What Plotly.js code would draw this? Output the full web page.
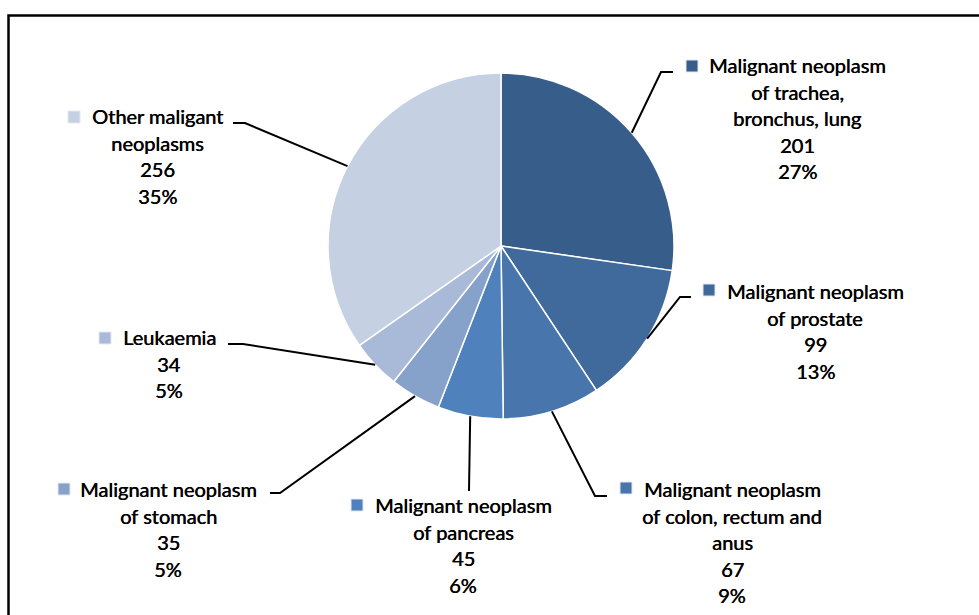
<!DOCTYPE html>
<html>
<head>
<meta charset="utf-8">
<script src="https://cdn.plot.ly/plotly-3.0.1.min.js"></script>
<style>html,body{margin:0;padding:0;background:#fff;}#chart{width:979px;height:615px;}</style>
</head>
<body>
<div id="chart"></div>
<script>
// ---- data ----
const categories = [
  "Malignant neoplasm|of trachea,|bronchus, lung",
  "Malignant neoplasm|of prostate",
  "Malignant neoplasm|of colon, rectum and|anus",
  "Malignant neoplasm|of pancreas",
  "Malignant neoplasm|of stomach",
  "Leukaemia",
  "Other maligant|neoplasms"
];
const deaths = [201, 99, 67, 45, 35, 34, 256];

// ---- styles ----
const colors = ["#375D8A", "#3F6A9B", "#4975AD", "#4F81BD", "#87A2CA", "#A9B9D8", "#C5D0E2"];
const W = 979, H = 615;
const CX = 501, CY = 246, R = 173;
// label layout (pixels): text centre x, first-line y, legend square centre, leader elbow and end
const labelLayout = [
  {tx: 797, ty: 65,  sq: [692, 66],  elbow: [661, 72],  end: [673, 72]},
  {tx: 815, ty: 291, sq: [709, 290], elbow: [680, 297], end: [691, 297]},
  {tx: 732, ty: 489, sq: [626, 488], elbow: [595, 496], end: [607, 496]},
  {tx: 463, ty: 505, sq: [357, 505], elbow: [469, 491], end: null},
  {tx: 168, ty: 489, sq: [64, 489],  elbow: [280, 493], end: [270, 493]},
  {tx: 169, ty: 337, sq: [105, 338], elbow: [243, 344], end: [228, 344]},
  {tx: 157, ty: 116, sq: [74, 117],  elbow: [245, 123], end: [233, 123]}
];
const LINE = 26.5;
const FONT = {family: "Lato, 'Open Sans', sans-serif", size: 20, color: "#000",
  shadow: "0.5px 0 0 #000"};

const px = x => x / W;
const py = y => 1 - y / H;

const total = deaths.reduce((a, b) => a + b, 0);
const annotations = [];
const shapes = [];

// border box
shapes.push({type: "rect", xref: "paper", yref: "paper",
  x0: px(8.5), x1: px(W + 20), y0: py(H + 20), y1: py(15.5),
  line: {color: "#000", width: 2.5}, fillcolor: "rgba(0,0,0,0)", layer: "below"});

let cum = 0;
deaths.forEach((v, i) => {
  const mid = (cum + v / 2) / total;
  cum += v;
  const ang = mid * 2 * Math.PI;
  const ax = CX + R * Math.sin(ang);
  const ay = CY - R * Math.cos(ang);
  const L = labelLayout[i];
  let path = `M ${px(ax)} ${py(ay)} L ${px(L.elbow[0])} ${py(L.elbow[1])}`;
  if (L.end) path += ` L ${px(L.end[0])} ${py(L.end[1])}`;
  shapes.push({type: "path", xref: "paper", yref: "paper", path: path,
    line: {color: "#000", width: 2}});
  const lines = categories[i].split("|").concat([String(v), Math.round(v / total * 100) + "%"]);
  lines.forEach((t, k) => {
    annotations.push({xref: "paper", yref: "paper", x: px(L.tx), y: py(L.ty + k * LINE),
      text: t, showarrow: false, xanchor: "center", yanchor: "middle", font: FONT});
  });
  const s = 6;
  shapes.push({type: "rect", xref: "paper", yref: "paper",
    x0: px(L.sq[0] - s), x1: px(L.sq[0] + s), y0: py(L.sq[1] + s), y1: py(L.sq[1] - s),
    fillcolor: colors[i], line: {color: "#E3E8F0", width: 1}});
});

const trace = {
  type: "pie",
  values: deaths,
  labels: categories.map(c => c.replace(/\|/g, " ")),
  sort: false,
  direction: "clockwise",
  rotation: 0,
  textinfo: "none",
  textposition: "none",
  hoverinfo: "label+value+percent",
  marker: {colors: colors, line: {color: "#FFFFFF", width: 1.5}},
  domain: {x: [px(CX - R), px(CX + R)], y: [py(CY + R), py(CY - R)]}
};

Plotly.newPlot("chart", [trace], {
  width: W, height: H,
  margin: {l: 0, r: 0, t: 0, b: 0},
  paper_bgcolor: "#fff",
  showlegend: false,
  annotations: annotations,
  shapes: shapes
}, {displayModeBar: false, staticPlot: true});
</script>
</body>
</html>
